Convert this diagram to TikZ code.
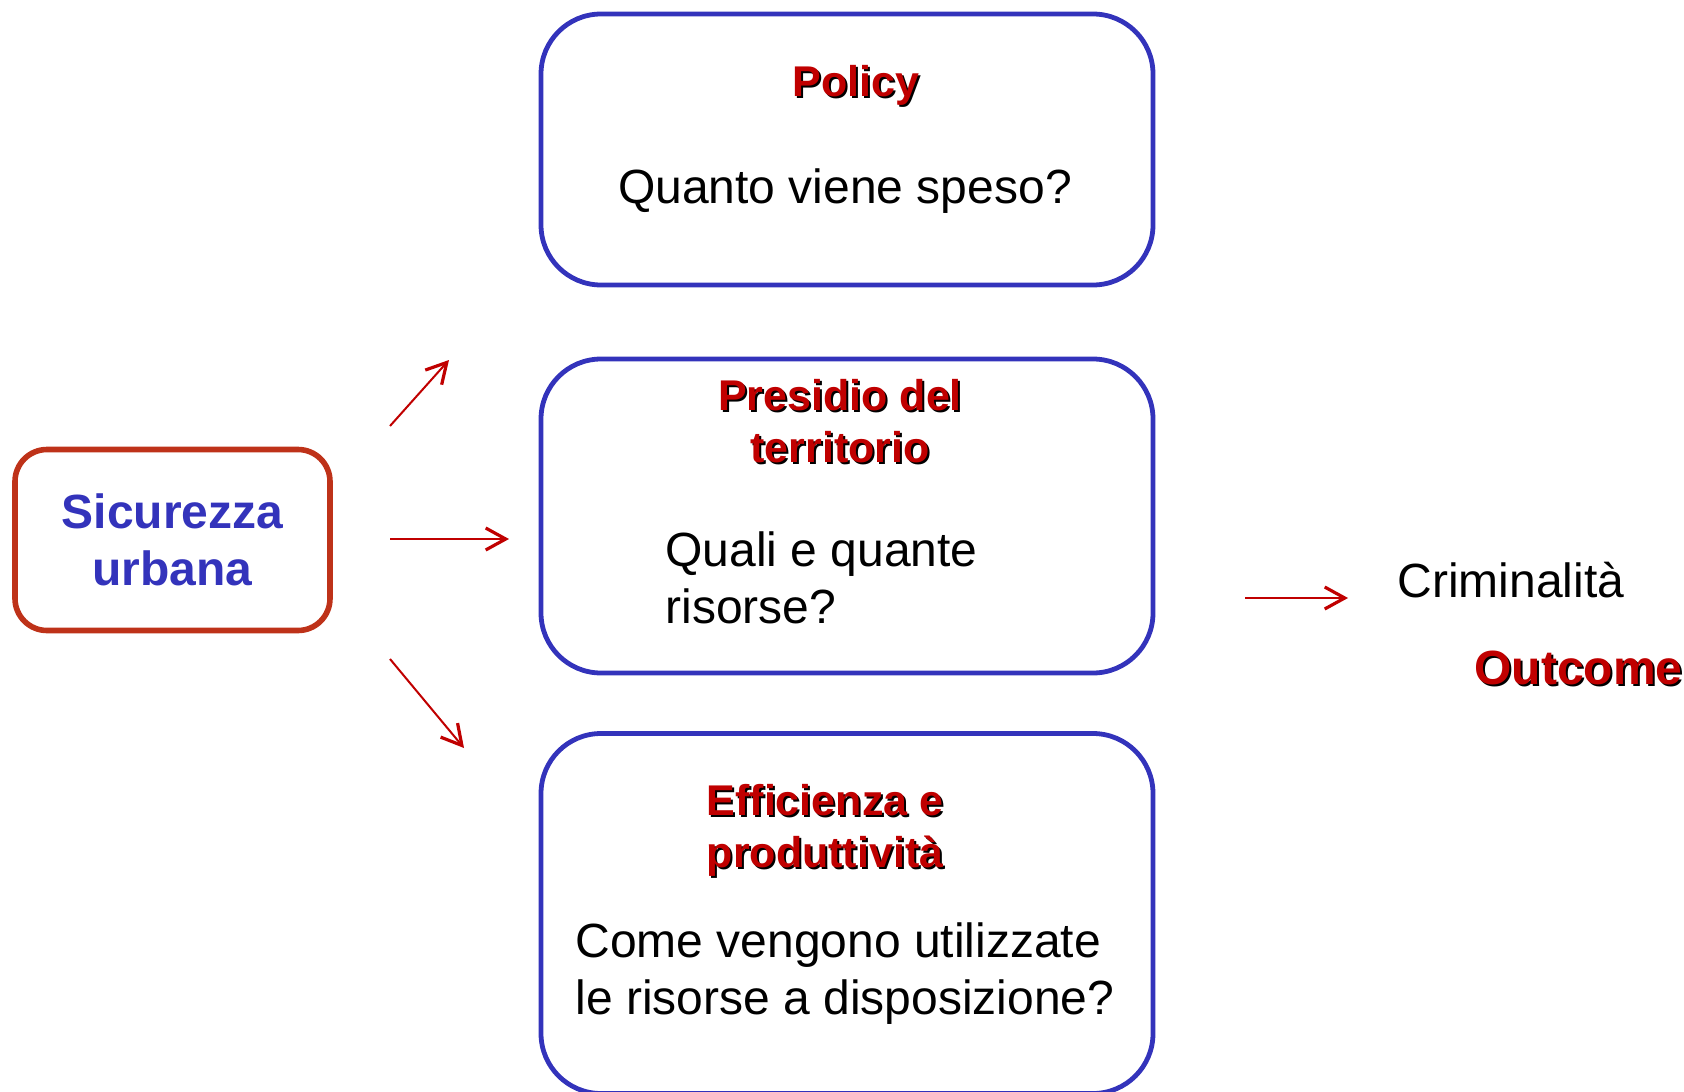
\documentclass[tikz,border=0pt]{standalone}
\usepackage{fontspec}
\setmainfont{Liberation Sans}
\usetikzlibrary{arrows.meta}
\definecolor{boxblue}{RGB}{51,51,187}
\definecolor{boxred}{RGB}{190,50,25}
\definecolor{titlered}{RGB}{192,0,0}
\newcommand{\shtxt}[1]{\rlap{\kern1pt\raisebox{-1pt}{\color{black}#1}}#1}
\begin{document}
\begin{tikzpicture}[x=0.5pt,y=-0.5pt,>={Straight Barb[length=10pt,width=11pt,line width=1.6pt]},
	bluebox/.style={draw=boxblue,line width=2.4pt,rounded corners=30pt,minimum width=306pt,inner sep=0pt},
	title/.style={text=titlered,font=\fontsize{21.5}{26}\selectfont\bfseries,align=center,inner sep=0pt},
	quest/.style={font=\fontsize{24}{28.5}\selectfont,inner sep=0pt},
	link/.style={->,titlered,line width=1pt}]
	\useasboundingbox (0,0) rectangle (1684,1091);
	% the three boxes
	\node[bluebox,minimum height=135.5pt] (policy) at (847,149.5) {};
	\node[title] (policyT) at (856,86) {\shtxt{Policy}};
	\node[quest] (policyQ) at (845,191.5) {Quanto viene speso?};
	\node[bluebox,minimum height=157pt] (presidio) at (847,516) {};
	\node[title] (presidioT) at (840,422.5) {\shtxt{Presidio del}\\\shtxt{territorio}};
	\node[quest,align=left,anchor=west] (presidioQ) at (665,578) {Quali e quante\\risorse?};
	\node[bluebox,minimum height=180pt] (effic) at (847,913.5) {};
	\node[title] (efficT) at (825,831.5) {\shtxt{Efficienza e}\\\shtxt{produttività}};
	\node[quest,align=left,anchor=west] (efficQ) at (575,974) {Come vengono utilizzate\\le risorse a disposizione?};
	% left box
	\node[draw=boxred,line width=2.8pt,rounded corners=16pt,minimum width=157.5pt,minimum height=90.5pt,
		align=center,text=boxblue,font=\fontsize{24}{28.5}\selectfont\bfseries] (sicur) at (172.5,540) {Sicurezza\\urbana};
	% right side
	\node[quest] (crimin) at (1511,580.5) {Criminalità};
	\node[title,font=\fontsize{24}{28.5}\selectfont\bfseries] (outcome) at (1578.5,669) {\shtxt{Outcome}};
	% arrows
	\coordinate (up0) at (390,426); \coordinate (up1) at (449,360);
	\coordinate (mid0) at (390,539); \coordinate (mid1) at (509,539);
	\coordinate (dn0) at (390,659); \coordinate (dn1) at (464,748);
	\coordinate (cr0) at (1245,598); \coordinate (cr1) at (1348,598);
	\draw[link] (up0)--(up1);
	\draw[link] (mid0)--(mid1);
	\draw[link] (dn0)--(dn1);
	\draw[link] (cr0)--(cr1);
\end{tikzpicture}
\end{document}
